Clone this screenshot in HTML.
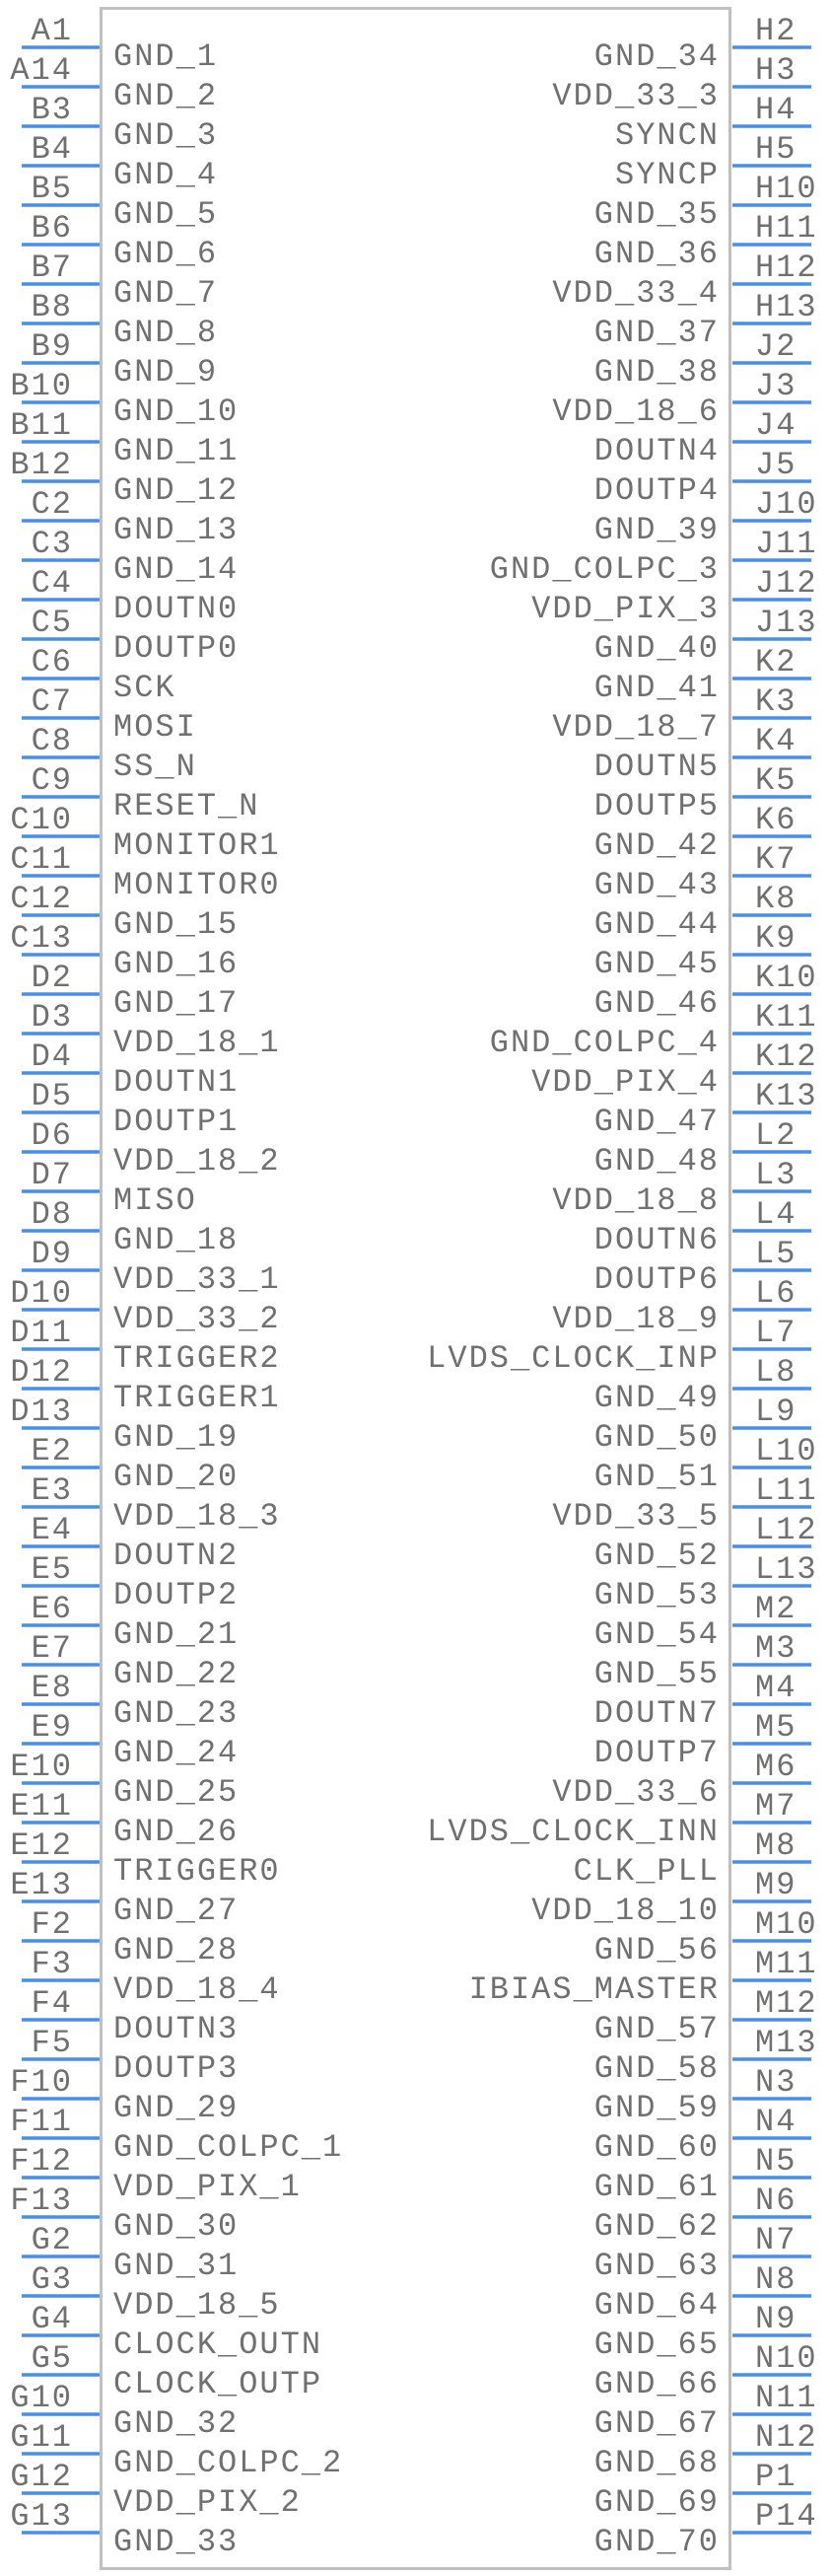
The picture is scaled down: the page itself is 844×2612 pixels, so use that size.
<!DOCTYPE html>
<html><head><meta charset="utf-8"><style>
html,body{margin:0;padding:0;background:#fff;}
svg{display:block}
text{font-family:"Liberation Mono",monospace;font-size:32px;fill:#707070;letter-spacing:2px;}
</style></head><body>
<svg id="s" width="844" height="2612" xmlns="http://www.w3.org/2000/svg">
<rect x="102.5" y="8.5" width="638" height="2596" fill="none" stroke="#c0c0c0" stroke-width="3"/>
</svg>
<script>
var L=[["A1","GND_1"],["A14","GND_2"],["B3","GND_3"],["B4","GND_4"],["B5","GND_5"],["B6","GND_6"],["B7","GND_7"],["B8","GND_8"],["B9","GND_9"],["B10","GND_10"],["B11","GND_11"],["B12","GND_12"],["C2","GND_13"],["C3","GND_14"],["C4","DOUTN0"],["C5","DOUTP0"],["C6","SCK"],["C7","MOSI"],["C8","SS_N"],["C9","RESET_N"],["C10","MONITOR1"],["C11","MONITOR0"],["C12","GND_15"],["C13","GND_16"],["D2","GND_17"],["D3","VDD_18_1"],["D4","DOUTN1"],["D5","DOUTP1"],["D6","VDD_18_2"],["D7","MISO"],["D8","GND_18"],["D9","VDD_33_1"],["D10","VDD_33_2"],["D11","TRIGGER2"],["D12","TRIGGER1"],["D13","GND_19"],["E2","GND_20"],["E3","VDD_18_3"],["E4","DOUTN2"],["E5","DOUTP2"],["E6","GND_21"],["E7","GND_22"],["E8","GND_23"],["E9","GND_24"],["E10","GND_25"],["E11","GND_26"],["E12","TRIGGER0"],["E13","GND_27"],["F2","GND_28"],["F3","VDD_18_4"],["F4","DOUTN3"],["F5","DOUTP3"],["F10","GND_29"],["F11","GND_COLPC_1"],["F12","VDD_PIX_1"],["F13","GND_30"],["G2","GND_31"],["G3","VDD_18_5"],["G4","CLOCK_OUTN"],["G5","CLOCK_OUTP"],["G10","GND_32"],["G11","GND_COLPC_2"],["G12","VDD_PIX_2"],["G13","GND_33"]];
var R=["GND_34","VDD_33_3","SYNCN","SYNCP","GND_35","GND_36","VDD_33_4","GND_37","GND_38","VDD_18_6","DOUTN4","DOUTP4","GND_39","GND_COLPC_3","VDD_PIX_3","GND_40","GND_41","VDD_18_7","DOUTN5","DOUTP5","GND_42","GND_43","GND_44","GND_45","GND_46","GND_COLPC_4","VDD_PIX_4","GND_47","GND_48","VDD_18_8","DOUTN6","DOUTP6","VDD_18_9","LVDS_CLOCK_INP","GND_49","GND_50","GND_51","VDD_33_5","GND_52","GND_53","GND_54","GND_55","DOUTN7","DOUTP7","VDD_33_6","LVDS_CLOCK_INN","CLK_PLL","VDD_18_10","GND_56","IBIAS_MASTER"];
for(var i=57;i<=70;i++)R.push("GND_"+i);
var RN=["H2","H3","H4","H5","H10","H11","H12","H13","J2","J3","J4","J5","J10","J11","J12","J13","K2","K3","K4","K5","K6","K7","K8","K9","K10","K11","K12","K13","L2","L3","L4","L5","L6","L7","L8","L9","L10","L11","L12","L13","M2","M3","M4","M5","M6","M7","M8","M9","M10","M11","M12","M13","N3","N4","N5","N6","N7","N8","N9","N10","N11","N12","P1","P14"];
var s=document.getElementById("s"),h="";
for(var i=0;i<64;i++){var y=48+i*40;
h+='<line x1="22" y1="'+y+'" x2="101" y2="'+y+'" stroke="#4a8fe7" stroke-width="3.5"/>';
h+='<text x="74" y="'+(y-8)+'" text-anchor="end">'+L[i][0]+'</text>';
h+='<text x="115" y="'+(y+18)+'">'+L[i][1]+'</text>';
h+='<line x1="743" y1="'+y+'" x2="823" y2="'+y+'" stroke="#4a8fe7" stroke-width="3.5"/>';
h+='<text x="766" y="'+(y-8)+'">'+RN[i]+'</text>';
h+='<text x="730" y="'+(y+18)+'" text-anchor="end">'+R[i]+'</text>';}
s.insertAdjacentHTML("beforeend",h);
</script>
</body></html>
